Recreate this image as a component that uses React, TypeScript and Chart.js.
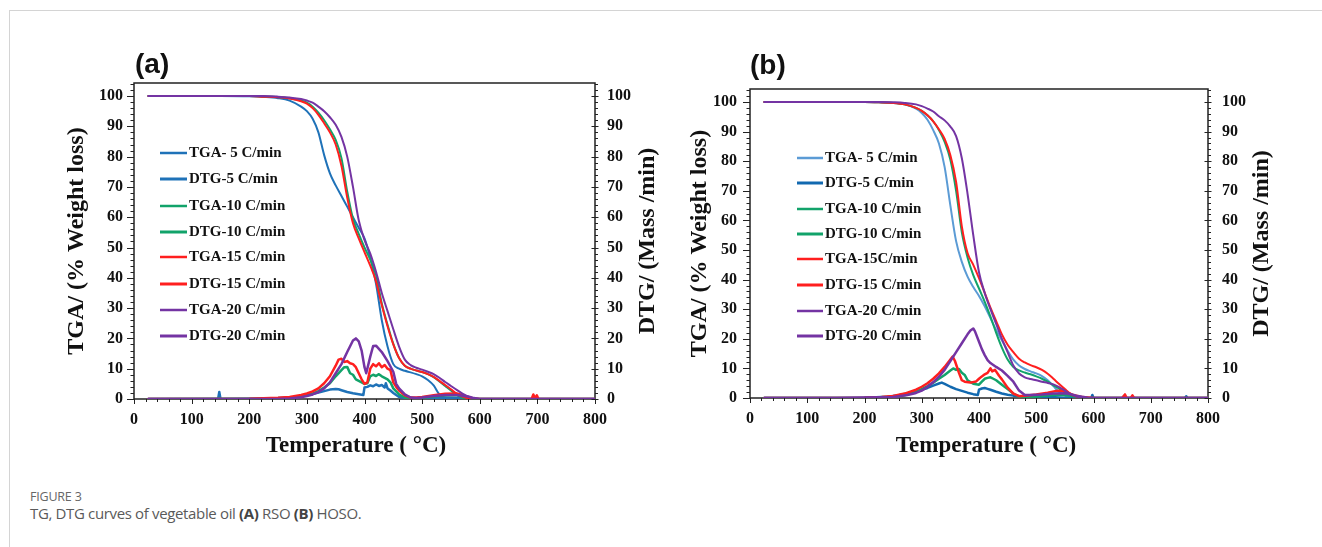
import { useEffect, useRef } from "react";
import { Chart, registerables } from "chart.js";

Chart.register(...registerables);

const SERIF = '"Liberation Serif", "Times New Roman", serif';
const SANS = '"Liberation Sans", Arial, sans-serif';

// Shared temperature grid (°C) for the TGA mass curves
const TGA_TEMPS = [25, 100, 150, 200, 225, 250, 270, 290, 300, 310, 320, 330, 340, 350, 360, 370, 380, 390, 400, 410, 420, 430, 440, 450, 460, 470, 480, 490, 500, 510, 520, 530, 540, 550, 560, 570, 580, 590, 600, 650, 700, 750, 800];

// (a) RSO — TGA (% weight)
const A_TGA5 = [100, 100, 100, 99.9, 99.7, 99.3, 98.5, 96.5, 95, 92.5, 88, 80.5, 74.5, 70.5, 67, 63.5, 60, 56.5, 53, 46.5, 38, 26, 17.3, 11.5, 10, 9.3, 8.8, 8.2, 7.5, 6.3, 4.5, 1.5, 0.4, 0.1, 0, 0, 0, 0, 0, 0, 0, 0, 0];
const A_TGA10 = [100, 100, 100, 100, 99.9, 99.7, 99.3, 98.5, 97.8, 96.5, 94.5, 92, 89, 85.5, 79.5, 68.5, 59.5, 54.5, 50, 46, 41, 31.5, 24.5, 18.2, 13.5, 11, 10, 9.4, 8.9, 8.2, 7.2, 5.8, 4.3, 2.8, 1.4, 0.4, 0.05, 0, 0, 0, 0, 0, 0];
const A_TGA15 = [100, 100, 100, 100, 99.8, 99.6, 99.2, 98.3, 97.5, 96, 93.8, 91, 88, 84, 77, 66.5, 58, 53, 48.5, 44, 38.8, 31, 24, 18, 13.5, 11, 10, 9.4, 8.9, 8.2, 7.3, 6, 4.6, 3.2, 1.8, 0.8, 0.2, 0, 0, 0, 0, 0, 0];
const A_TGA20 = [100, 100, 100, 100, 100, 99.8, 99.5, 99, 98.5, 97.8, 96.5, 95, 93, 90.5, 86.5, 80, 70, 59, 52.5, 48, 42, 35, 29, 23, 17.3, 13, 11.2, 10.3, 9.7, 9, 8.2, 7, 5.6, 4.3, 3, 1.8, 0.8, 0.2, 0, 0, 0, 0, 0];

// (a) RSO — DTG (mass/min), each curve with its own temperature samples
const A_DTG5_T = [25, 140, 146, 148, 150, 152, 200, 250, 280, 300, 310, 320, 330, 340, 350, 355, 360, 370, 380, 390, 398, 400, 405, 410, 415, 420, 425, 430, 435, 437, 440, 445, 450, 455, 460, 470, 480, 500, 540, 560, 580, 600, 800];
const A_DTG5 = [0, 0, 0.1, 2.3, 0.2, 0, 0.1, 0.3, 0.7, 1.2, 1.6, 2.1, 2.6, 3.1, 3.3, 3.2, 2.9, 2.3, 1.9, 1.6, 1.3, 3.8, 4, 4.5, 4.2, 4.8, 4.3, 4.6, 3.8, 5.2, 3.5, 2.8, 2, 1.3, 0.7, 0.3, 0.1, 0.2, 0.5, 0.3, 0.1, 0, 0];
const A_DTG10_T = [25, 250, 280, 300, 310, 320, 330, 340, 350, 360, 365, 370, 375, 380, 385, 390, 395, 400, 405, 410, 415, 420, 425, 430, 435, 440, 445, 450, 455, 460, 470, 480, 500, 520, 540, 560, 570, 580, 590, 800];
const A_DTG10 = [0, 0.2, 0.5, 1.2, 1.8, 2.6, 3.8, 5.2, 7.5, 9.5, 10.5, 10.6, 8.5, 8, 6.5, 6, 5.5, 5, 5.2, 7.5, 8, 7.6, 8.2, 7.5, 7, 6.5, 5.5, 3.5, 2.5, 1.5, 0.5, 0.2, 0.3, 0.8, 1.2, 1.2, 0.8, 0.3, 0, 0];
const A_DTG15_T = [25, 200, 250, 270, 290, 300, 310, 320, 330, 340, 350, 355, 360, 365, 370, 375, 380, 385, 390, 395, 400, 405, 410, 415, 420, 425, 430, 435, 440, 445, 450, 455, 460, 470, 480, 490, 500, 520, 540, 560, 570, 580, 590, 600, 690, 693, 696, 699, 702, 800];
const A_DTG15 = [0, 0.1, 0.4, 0.7, 1.3, 1.8, 2.5, 3.5, 5.2, 7.5, 11, 13, 13.3, 12.2, 12.5, 11.8, 11.5, 10.5, 8.5, 6.5, 5, 5.5, 10, 11.5, 10.8, 11.8, 10.5, 11.2, 10, 9.5, 5.5, 4, 2.8, 1.2, 0.5, 0.5, 0.7, 1.2, 1.7, 1.8, 1.3, 0.6, 0.2, 0, 0, 1.5, 0.3, 1.2, 0, 0];
const A_DTG20_T = [25, 250, 270, 290, 300, 310, 320, 330, 340, 350, 360, 370, 380, 385, 390, 395, 400, 403, 410, 415, 420, 430, 440, 450, 455, 460, 470, 480, 490, 500, 520, 540, 560, 580, 590, 600, 800];
const A_DTG20 = [0, 0, 0.2, 0.6, 1, 1.5, 2.3, 3.5, 5.5, 8.5, 11.5, 15.5, 19.3, 20, 19, 16, 10.5, 8.5, 14, 17.5, 17.6, 15.5, 12.5, 9, 5, 3.5, 1.5, 0.5, 0.3, 0.5, 1, 1.3, 1.3, 0.8, 0.3, 0, 0];

// (b) HOSO — TGA (% weight)
const B_TGA5 = [100, 100, 100, 100, 99.9, 99.7, 99.2, 97.8, 96.3, 94, 90.5, 86, 78, 65, 53, 46, 41, 37.5, 34.5, 31, 27, 23, 19.5, 16, 13, 11, 9.8, 9, 8.3, 7.4, 6, 4, 2, 0.8, 0.2, 0, 0, 0, 0, 0, 0, 0, 0];
const B_TGA10 = [100, 100, 100, 100, 99.9, 99.7, 99.2, 98, 97, 95.5, 93.5, 90.5, 86.5, 80.5, 70, 56, 47.5, 41.5, 37, 32.5, 27.5, 22, 17, 13, 10.5, 9.3, 8.6, 8, 7.3, 6.5, 5.5, 4.3, 3.2, 2, 1, 0.3, 0, 0, 0, 0, 0, 0, 0];
const B_TGA15 = [100, 100, 100, 100, 99.9, 99.7, 99.2, 98, 97, 95.5, 93.5, 90.8, 87.5, 82, 73, 58, 49, 45, 40.5, 35.5, 30.5, 26, 21.5, 18, 15.5, 13.3, 12, 11.1, 10.4, 9.5, 8.2, 6.5, 4.7, 3, 1.4, 0.5, 0.1, 0, 0, 0, 0, 0, 0];
const B_TGA20 = [100, 100, 100, 100, 100, 99.9, 99.7, 99.2, 98.6, 97.8, 96.8, 95.2, 93.8, 91.7, 88.5, 81, 69, 55, 42.5, 35.5, 30, 25, 20, 15.5, 11, 8.3, 7, 6.4, 6, 5.5, 5.1, 4.6, 3.7, 2.5, 1.3, 0.5, 0.1, 0, 0, 0, 0, 0, 0];

// (b) HOSO — DTG (mass/min)
const B_DTG5_T = [25, 150, 200, 240, 260, 280, 300, 310, 320, 330, 335, 340, 350, 360, 370, 380, 390, 398, 400, 405, 410, 415, 420, 430, 440, 450, 460, 480, 500, 520, 540, 560, 596, 598, 600, 760, 762, 764, 800];
const B_DTG5 = [0, 0, 0.1, 0.4, 0.9, 1.8, 2.8, 3.4, 4.2, 4.9, 5.2, 4.8, 3.8, 3, 2.4, 1.8, 1.3, 1, 2.8, 3.2, 3.4, 3.1, 2.8, 2.1, 1.5, 1.1, 0.8, 0.5, 0.5, 0.4, 0.2, 0, 0, 1, 0, 0, 0.6, 0, 0];
const B_DTG10_T = [25, 200, 250, 270, 290, 300, 310, 320, 330, 340, 350, 355, 360, 365, 370, 375, 380, 390, 400, 405, 410, 415, 420, 425, 430, 440, 450, 460, 470, 480, 500, 530, 550, 570, 590, 650, 654, 657, 800];
const B_DTG10 = [0, 0.1, 0.4, 0.9, 2, 3, 4, 5.2, 6.5, 7.8, 9.3, 10, 9.5, 9.8, 8.5, 7.8, 6, 4.8, 4.5, 5.5, 6.5, 6.8, 7, 6.5, 6, 4.5, 3, 1.5, 0.5, 0.2, 0.5, 1, 1, 0.5, 0, 0, 0.8, 0, 0];
const B_DTG15_T = [25, 200, 230, 250, 270, 290, 300, 310, 320, 330, 340, 350, 354, 358, 365, 370, 375, 385, 395, 400, 405, 410, 415, 420, 423, 428, 435, 440, 450, 460, 470, 480, 500, 520, 535, 545, 555, 565, 580, 600, 650, 655, 658, 665, 668, 671, 800];
const B_DTG15 = [0, 0.1, 0.3, 0.7, 1.5, 2.8, 3.8, 5, 6.5, 8.3, 10.5, 13, 14, 12.5, 8.5, 6, 5.5, 5.2, 5.6, 6.5, 7.3, 8, 8.5, 10, 9, 9.5, 7.5, 6.3, 3.5, 1.5, 0.6, 0.8, 1.2, 1.8, 2.4, 2.5, 1.8, 1, 0.3, 0, 0, 1.2, 0, 0, 0.9, 0, 0];
const B_DTG20_T = [25, 150, 250, 275, 290, 300, 310, 320, 330, 340, 350, 360, 370, 380, 385, 390, 393, 400, 405, 410, 415, 420, 430, 440, 450, 460, 470, 480, 490, 510, 530, 550, 560, 570, 580, 590, 600, 800];
const B_DTG20 = [0, 0, 0.3, 1, 1.7, 2.5, 3.8, 5.3, 7.2, 9.5, 12.5, 15.5, 18.5, 21.5, 22.8, 23.5, 22.5, 19, 16.5, 14.5, 12.8, 11.8, 10.5, 9.3, 7.5, 5.5, 2.5, 1, 1, 1.2, 1.5, 1.6, 1.3, 0.8, 0.4, 0.1, 0, 0];

// Axis tick values
const X_TICKS = [0, 100, 200, 300, 400, 500, 600, 700, 800];
const Y_TICKS = [0, 10, 20, 30, 40, 50, 60, 70, 80, 90, 100];

const BLUE = "#1f72b8";
const LIGHT_BLUE = "#5b9bd5";
const DARK_BLUE = "#1269b0";
const GREEN = "#12a36a";
const RED = "#ff1f1f";
const PURPLE = "#7434a3";

type Series = {
  label: string;
  color: string;
  width: number;
  kind: "tga" | "dtg";
  temps: number[];
  values: number[];
};

const SERIES_A: Series[] = [
  { label: "TGA- 5 C/min", color: BLUE, width: 2, kind: "tga", temps: TGA_TEMPS, values: A_TGA5 },
  { label: "DTG-5 C/min", color: BLUE, width: 2.5, kind: "dtg", temps: A_DTG5_T, values: A_DTG5 },
  { label: "TGA-10 C/min", color: GREEN, width: 2, kind: "tga", temps: TGA_TEMPS, values: A_TGA10 },
  { label: "DTG-10 C/min", color: GREEN, width: 2.5, kind: "dtg", temps: A_DTG10_T, values: A_DTG10 },
  { label: "TGA-15 C/min", color: RED, width: 2, kind: "tga", temps: TGA_TEMPS, values: A_TGA15 },
  { label: "DTG-15 C/min", color: RED, width: 2.5, kind: "dtg", temps: A_DTG15_T, values: A_DTG15 },
  { label: "TGA-20 C/min", color: PURPLE, width: 2, kind: "tga", temps: TGA_TEMPS, values: A_TGA20 },
  { label: "DTG-20 C/min", color: PURPLE, width: 2.5, kind: "dtg", temps: A_DTG20_T, values: A_DTG20 },
];

const SERIES_B: Series[] = [
  { label: "TGA- 5 C/min", color: LIGHT_BLUE, width: 2, kind: "tga", temps: TGA_TEMPS, values: B_TGA5 },
  { label: "DTG-5 C/min", color: DARK_BLUE, width: 2.5, kind: "dtg", temps: B_DTG5_T, values: B_DTG5 },
  { label: "TGA-10 C/min", color: GREEN, width: 2, kind: "tga", temps: TGA_TEMPS, values: B_TGA10 },
  { label: "DTG-10 C/min", color: GREEN, width: 2.5, kind: "dtg", temps: B_DTG10_T, values: B_DTG10 },
  { label: "TGA-15C/min", color: RED, width: 2, kind: "tga", temps: TGA_TEMPS, values: B_TGA15 },
  { label: "DTG-15 C/min", color: RED, width: 2.5, kind: "dtg", temps: B_DTG15_T, values: B_DTG15 },
  { label: "TGA-20 C/min", color: PURPLE, width: 2, kind: "tga", temps: TGA_TEMPS, values: B_TGA20 },
  { label: "DTG-20 C/min", color: PURPLE, width: 2.5, kind: "dtg", temps: B_DTG20_T, values: B_DTG20 },
];

type PanelProps = {
  letter: string;
  series: Series[];
  left: number;
  width: number;
  height: number;
  area: { left: number; top: number; right: number; bottom: number };
  yMax: number;
  padLeft: number;
  padRight: number;
  padX: number;
  leftTitleX: number;
  rightTitleX: number;
  xTitleX: number;
  xTitleBase: number;
  letterX: number;
  letterBase: number;
  legendX0: number;
  legendX1: number;
  legendTextX: number;
  legendRows: number[];
};

function Panel(p: PanelProps) {
  const ref = useRef<HTMLCanvasElement>(null);

  useEffect(() => {
    const canvas = ref.current;
    if (!canvas) return;
    const ox = p.left;
    const tickFont = { family: SERIF, size: 16, weight: "bold" as const };

    const datasets = p.series.map((s, i) => ({
      label: s.label,
      data: s.temps.map((t, k) => ({ x: t, y: s.values[k] })),
      borderColor: s.color,
      backgroundColor: s.color,
      borderWidth: s.width,
      borderJoinStyle: "round" as const,
      borderCapStyle: "round" as const,
      pointRadius: 0,
      fill: false,
      tension: 0,
      cubicInterpolationMode: s.kind === "tga" ? ("monotone" as const) : ("default" as const),
      yAxisID: s.kind === "tga" ? "y" : "y2",
      order: p.series.length - i,
    }));

    // axis frame with major/minor tick marks, drawn under the curves
    const framePlugin = {
      id: "frame",
      beforeDatasetsDraw(chart: any) {
        const { ctx, chartArea: a } = chart;
        const xs = chart.scales.x;
        const ys = chart.scales.y;
        ctx.save();
        ctx.strokeStyle = "#222";
        ctx.lineWidth = 1.5;
        ctx.strokeRect(a.left, a.top, a.right - a.left, a.bottom - a.top);
        ctx.lineWidth = 1;
        ctx.beginPath();
        for (let v = 0; v <= 800; v += 20) {
          const px = Math.round(xs.getPixelForValue(v)) + 0.5;
          const len = v % 100 === 0 ? 5 : 3;
          ctx.moveTo(px, a.bottom);
          ctx.lineTo(px, a.bottom + len);
        }
        for (let v = 0; v <= p.yMax; v += 2) {
          const py = Math.round(ys.getPixelForValue(v)) + 0.5;
          const major = v % 10 === 0;
          ctx.moveTo(a.left - (major ? 7 : 3.5), py);
          ctx.lineTo(a.left, py);
          if (major) {
            ctx.moveTo(a.right - 3.5, py);
            ctx.lineTo(a.right + 3.5, py);
          } else {
            ctx.moveTo(a.right, py);
            ctx.lineTo(a.right + 3, py);
          }
        }
        ctx.stroke();
        ctx.restore();
      },
      afterDraw(chart: any) {
        const { ctx, chartArea: a } = chart;
        ctx.save();
        ctx.fillStyle = "#111";
        // axis titles
        const midY = (a.top + a.bottom) / 2;
        ctx.font = `bold 24px ${SERIF}`;
        ctx.textAlign = "center";
        ctx.textBaseline = "middle";
        ctx.save();
        ctx.translate(p.leftTitleX - ox, midY);
        ctx.rotate(-Math.PI / 2);
        ctx.fillText("TGA/ (% Weight loss)", 0, 0);
        ctx.restore();
        ctx.save();
        ctx.translate(p.rightTitleX - ox, midY);
        ctx.rotate(-Math.PI / 2);
        ctx.fillText("DTG/ (Mass /min)", 0, 0);
        ctx.restore();
        ctx.font = `bold 23px ${SERIF}`;
        ctx.textBaseline = "alphabetic";
        ctx.fillText("Temperature ( °C)", p.xTitleX - ox, p.xTitleBase);
        // panel letter
        ctx.font = `bold 28px ${SANS}`;
        ctx.textAlign = "left";
        ctx.fillText(p.letter, p.letterX - ox, p.letterBase);
        // legend inside the plot
        ctx.font = `bold 15px ${SERIF}`;
        ctx.textBaseline = "middle";
        chart.data.datasets.forEach((ds: any, i: number) => {
          const y = p.legendRows[i];
          ctx.strokeStyle = ds.borderColor;
          ctx.lineWidth = ds.borderWidth + 0.5;
          ctx.beginPath();
          ctx.moveTo(p.legendX0 - ox, y);
          ctx.lineTo(p.legendX1 - ox, y);
          ctx.stroke();
          ctx.fillStyle = "#111";
          ctx.fillText(ds.label, p.legendTextX - ox, y + 0.5);
        });
        ctx.restore();
      },
    };

    const yTicks = (s: any) => {
      s.ticks = Y_TICKS.map((v) => ({ value: v }));
    };

    const chart = new Chart(canvas, {
      type: "line",
      data: { datasets: datasets as any },
      options: {
        responsive: false,
        animation: false,
        events: [],
        layout: { padding: { top: p.area.top, left: 0, right: 0, bottom: 0 } },
        plugins: { legend: { display: false }, tooltip: { enabled: false } },
        scales: {
          x: {
            type: "linear",
            position: "bottom",
            min: 0,
            max: 800,
            grid: { display: false, drawTicks: false },
            border: { display: false },
            ticks: { font: tickFont, color: "#111", padding: p.padX, maxRotation: 0, autoSkip: false, callback: (v: any) => String(v) },
            afterBuildTicks: (s: any) => {
              s.ticks = X_TICKS.map((v) => ({ value: v }));
            },
            afterFit: (s: any) => {
              s.height = p.height - p.area.bottom;
            },
          },
          y: {
            type: "linear",
            position: "left",
            min: 0,
            max: p.yMax,
            grid: { display: false, drawTicks: false },
            border: { display: false },
            ticks: { font: tickFont, color: "#111", padding: p.padLeft, callback: (v: any) => String(v) },
            afterBuildTicks: yTicks,
            afterFit: (s: any) => {
              s.width = p.area.left - ox;
            },
          },
          y2: {
            type: "linear",
            position: "right",
            min: 0,
            max: p.yMax,
            grid: { display: false, drawTicks: false },
            border: { display: false },
            ticks: { font: tickFont, color: "#111", padding: p.padRight, callback: (v: any) => String(v) },
            afterBuildTicks: yTicks,
            afterFit: (s: any) => {
              s.width = ox + p.width - p.area.right;
            },
          },
        },
      },
      plugins: [framePlugin],
    });
    return () => chart.destroy();
  }, []);

  return (
    <canvas
      ref={ref}
      width={p.width}
      height={p.height}
      style={{ position: "absolute", left: p.left, top: 0, width: p.width, height: p.height }}
    />
  );
}

export default function App() {
  return (
    <div style={{ position: "absolute", left: 0, top: 0, width: 1322, height: 547, background: "#fff", overflow: "hidden" }}>
      <div
        style={{
          position: "absolute",
          left: 9,
          top: 10,
          right: 0,
          bottom: 0,
          borderTop: "1.5px solid #d4d4d4",
          borderLeft: "1.5px solid #d4d4d4",
        }}
      />
      <Panel
        letter="(a)"
        series={SERIES_A}
        left={0}
        width={680}
        height={470}
        area={{ left: 134, top: 83, right: 595, bottom: 399 }}
        yMax={104.3}
        padLeft={11}
        padRight={12}
        padX={11}
        leftTitleX={77}
        rightTitleX={648}
        xTitleX={356}
        xTitleBase={452}
        letterX={135}
        letterBase={73}
        legendX0={160}
        legendX1={187}
        legendTextX={189}
        legendRows={[153, 179, 206, 232, 257, 284, 310, 336]}
      />
      <Panel
        letter="(b)"
        series={SERIES_B}
        left={640}
        width={682}
        height={470}
        area={{ left: 750, top: 89, right: 1208, bottom: 398 }}
        yMax={104.4}
        padLeft={13}
        padRight={14}
        padX={11}
        leftTitleX={700}
        rightTitleX={1262}
        xTitleX={986}
        xTitleBase={452}
        letterX={750}
        letterBase={74}
        legendX0={797}
        legendX1={823}
        legendTextX={825}
        legendRows={[158, 183, 209, 234, 259, 285, 311, 336]}
      />
      <div
        style={{
          position: "absolute",
          left: 30,
          top: 491,
          fontFamily: '"Open Sans", sans-serif',
          fontSize: 12.5,
          lineHeight: "12.5px",
          color: "#666",
          letterSpacing: "-0.2px",
          whiteSpace: "nowrap",
        }}
      >
        FIGURE 3
      </div>
      <div
        style={{
          position: "absolute",
          left: 30,
          top: 505.7,
          fontFamily: '"Open Sans", sans-serif',
          fontSize: 15,
          lineHeight: "15px",
          color: "#5a5a5a",
          letterSpacing: "-0.35px",
          whiteSpace: "nowrap",
        }}
      >
        TG, DTG curves of vegetable oil <b style={{ color: "#444" }}>(A)</b> RSO <b style={{ color: "#444" }}>(B)</b> HOSO.
      </div>
    </div>
  );
}
